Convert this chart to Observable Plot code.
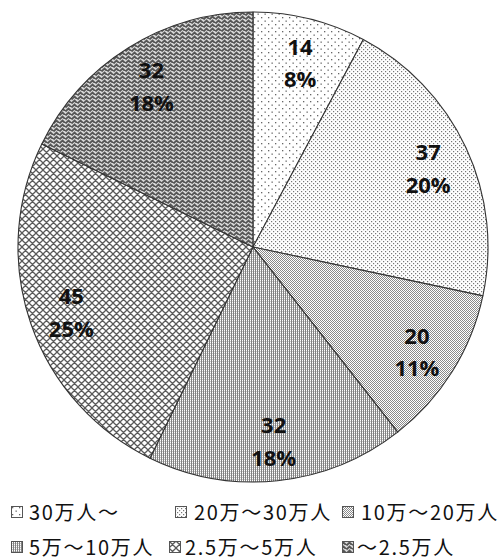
<!DOCTYPE html>
<html><head><meta charset="utf-8">
<script src="https://cdn.jsdelivr.net/npm/d3@7"></script>
<script src="https://cdn.jsdelivr.net/npm/@observablehq/plot@0.6"></script>
<style>
body{margin:0;background:#fff;}
#chart{position:relative;width:504px;height:558px;}
.lg{position:absolute;font-family:"Noto Sans CJK JP",sans-serif;font-size:20px;letter-spacing:1.7px;color:#111;white-space:nowrap;line-height:20px;height:20px;}
.bx{position:absolute;}
</style></head><body><div id="chart"></div>
<script>
// ---- data ----
const categories = ["30万人～","20万～30万人","10万～20万人","5万～10万人","2.5万～5万人","～2.5万人"];
const counts = [14, 37, 20, 32, 45, 32];
const percents = [8, 20, 11, 18, 25, 18];

const data = categories.map((c, i) => ({category: c, count: counts[i], pct: percents[i], i}));
const pie = d3.pie().sort(null).value(d => d.count)(data);
const labelR = 0.82;
const labels = pie.map(p => {
  const a = (p.startAngle + p.endAngle) / 2;
  return {x: labelR * Math.sin(a), y: labelR * Math.cos(a), text: `${p.data.count}\n${p.data.pct}%`};
});

const W = 504, H = 490, cx = 253, cy = 247, R = 235;

const slices = (index, scales) => {
  const x0 = scales.x(0), y0 = scales.y(0), r = scales.x(1) - scales.x(0);
  const arc = d3.arc().innerRadius(0).outerRadius(r);
  const g = d3.create("svg:g").attr("transform", `translate(${x0},${y0})`);
  g.selectAll("path").data(pie).join("path")
    .attr("d", arc)
    .attr("fill", d => `url(#pat${d.data.i})`)
    .attr("stroke", "#333")
    .attr("stroke-width", 1.1)
    .attr("stroke-linejoin", "round");
  return g.node();
};

const chart = Plot.plot({
  width: W, height: H,
  margin: 0,
  x: {domain: [-cx / R, (W - cx) / R], axis: null},
  y: {domain: [-(H - cy) / R, cy / R], axis: null},
  marks: [
    slices,
    Plot.text(labels, {x: "x", y: "y", text: "text", fontSize: 22, fontWeight: "bold",
      fontFamily: "'Open Sans', Lato, sans-serif", lineHeight: 1.48, fill: "#111"})
  ]
});
chart.style.position = "absolute";
chart.style.left = "0px";
chart.style.top = "0px";

// patterns
const defs = d3.select(chart).insert("defs", ":first-child");
function pat(id, w, h, build) {
  const p = defs.append("pattern").attr("id", id).attr("patternUnits", "userSpaceOnUse")
    .attr("width", w).attr("height", h);
  p.append("rect").attr("width", w).attr("height", h).attr("fill", "#fff");
  build(p);
}
pat("pat0", 7, 7, p => {
  p.append("rect").attr("x", 1).attr("y", 1).attr("width", 1.3).attr("height", 1.3).attr("fill", "#666");
  p.append("rect").attr("x", 4.5).attr("y", 4.5).attr("width", 1.3).attr("height", 1.3).attr("fill", "#666");
});
pat("pat1", 4, 4, p => {
  p.append("rect").attr("x", 0).attr("y", 0).attr("width", 1.2).attr("height", 1.2).attr("fill", "#777");
  p.append("rect").attr("x", 2).attr("y", 2).attr("width", 1.2).attr("height", 1.2).attr("fill", "#777");
});
pat("pat2", 2, 2, p => {
  p.append("rect").attr("x", 0).attr("y", 0).attr("width", 1).attr("height", 1).attr("fill", "#8a8a8a");
  p.append("rect").attr("x", 1).attr("y", 1).attr("width", 1).attr("height", 1).attr("fill", "#8a8a8a");
});
pat("pat3", 2, 2, p => {
  p.append("rect").attr("x", 0).attr("y", 0).attr("width", 1).attr("height", 2).attr("fill", "#828282");
  p.append("rect").attr("x", 1).attr("y", 0).attr("width", 1).attr("height", 1).attr("fill", "#c8c8c8");
});
pat("pat4", 7, 7, p => {
  p.append("path").attr("d", "M-1,-1L8,8M-1,6L1,8M6,-1L8,1M8,-1L-1,8M1,-1L-1,1M8,6L6,8")
    .attr("stroke", "#5a5a5a").attr("stroke-width", 1.3).attr("fill", "none");
});
pat("pat5", 6, 4, p => {
  p.append("rect").attr("width", 6).attr("height", 4).attr("fill", "#d8d8d8");
  p.append("path").attr("d", "M-1.5,4.5L1.5,1.5L4.5,4.5L7.5,1.5M-1.5,0.5L-0.5,-0.5M4.5,0.5L5.5,-0.5")
    .attr("stroke", "#555").attr("stroke-width", 1.8).attr("fill", "none");
});

const root = document.getElementById("chart");
root.appendChild(chart);

// legend
const legendPos = [
  {bx: 11, tx: 29, cy: 512},
  {bx: 175, tx: 194, cy: 512},
  {bx: 342, tx: 361, cy: 512},
  {bx: 11, tx: 29, cy: 547},
  {bx: 169, tx: 185, cy: 547},
  {bx: 342, tx: 357, cy: 547}
];
categories.forEach((c, i) => {
  const pz = legendPos[i];
  const s = d3.create("svg").attr("class", "bx").attr("width", 12).attr("height", 12)
    .style("left", pz.bx + "px").style("top", (pz.cy - 6) + "px");
  s.append("rect").attr("x", 0.5).attr("y", 0.5).attr("width", 11).attr("height", 11)
    .attr("fill", `url(#pat${i})`).attr("stroke", "#555").attr("stroke-width", 1);
  root.appendChild(s.node());
  const t = document.createElement("div");
  t.className = "lg";
  t.textContent = c;
  t.style.left = pz.tx + "px";
  t.style.top = (pz.cy - 10) + "px";
  root.appendChild(t);
});
</script></body></html>
